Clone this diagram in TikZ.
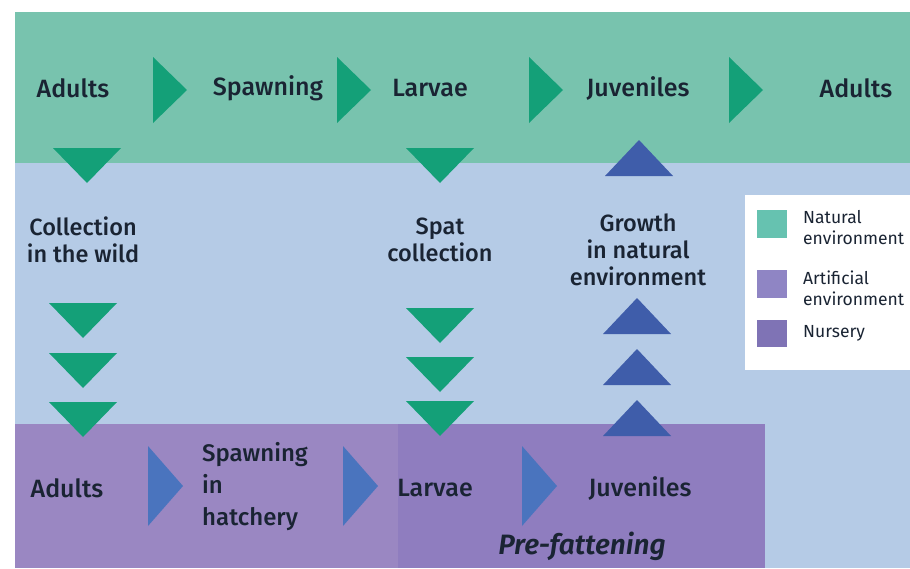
\documentclass[tikz,border=0pt]{standalone}
\usepackage{fontspec}
\setmainfont{Fira Sans}[UprightFont={* Medium},ItalicFont={* SemiBold Italic},BoldFont={* SemiBold}]
\newfontfamily\regfont{Fira Sans}
\begin{document}
\begin{tikzpicture}[x=1pt,y=-1pt]
\definecolor{natbg}{HTML}{78C3AE}
\definecolor{skybg}{HTML}{B5CBE6}
\definecolor{artbg}{HTML}{9A87C2}
\definecolor{nurbg}{HTML}{8F7DBF}
\definecolor{greentri}{HTML}{14A078}
\definecolor{bluetri}{HTML}{3F5DAA}
\definecolor{bluearr}{HTML}{4A74BE}
\definecolor{ink}{HTML}{1A2433}
\definecolor{swnat}{HTML}{66C2B0}
\definecolor{swart}{HTML}{8F85C4}
\definecolor{swnur}{HTML}{7F73B5}
\tikzset{
  lbl/.style={text=ink,font=\fontsize{25}{28}\selectfont,inner sep=0pt,align=center},
  mid/.style={text=ink,font=\fontsize{23.5}{27}\selectfont,inner sep=0pt,align=center},
  leg/.style={text=ink,font=\regfont\fontsize{17.5}{21}\selectfont,inner sep=0pt,align=left,anchor=west},
  tridown/.pic={\fill[greentri] (-34,0) -- (34,0) -- (0,35) -- cycle;},
  triup/.pic={\fill[bluetri] (-34,0) -- (34,0) -- (0,-36) -- cycle;},
  triright/.pic={\fill[greentri] (0,-33) -- (34,0) -- (0,33) -- cycle;},
  triblue/.pic={\fill[bluearr] (0,-40) -- (35,0) -- (0,40) -- cycle;}
}
\useasboundingbox (0,0) rectangle (910,568);
\fill[white] (0,0) rectangle (910,568);
% bands
\fill[skybg] (15,12) rectangle (910,568);
\fill[natbg] (15,12) rectangle (910,163);
\fill[artbg] (15,424) rectangle (765,568);
\fill[nurbg] (398,424) rectangle (765,568);
% top row arrows
\pic at (153,90) {triright};
\pic at (337,90) {triright};
\pic at (529,90) {triright};
\pic at (729,90) {triright};
% top row labels
\node[lbl] (a1) at (73,88) {Adults};
\node[lbl] (s1) at (268,88) {Spawning};
\node[lbl] (l1) at (430,88) {Larvae};
\node[lbl] (j1) at (638,88) {Juveniles};
\node[lbl] (a2) at (856,88) {Adults};
% vertical triangles
\pic at (87,148) {tridown};
\pic at (440,148) {tridown};
\pic at (639,176) {triup};
\pic at (83,303) {tridown};
\pic at (83,353) {tridown};
\pic at (83,402) {tridown};
\pic at (440,308) {tridown};
\pic at (440,357) {tridown};
\pic at (440,401) {tridown};
\pic at (637,334) {triup};
\pic at (637,385) {triup};
\pic at (637,436) {triup};
% middle labels
\node[mid] (cw) at (83,240) {Collection\\in the wild};
\node[mid] (sc) at (440,240) {Spat\\collection};
\node[mid] (gn) at (638,250) {Growth\\in natural\\environment};
% bottom arrows
\pic at (148,486) {triblue};
\pic at (343,486) {triblue};
\pic at (522,486) {triblue};
% bottom labels
\node[lbl] (a3) at (67,488) {Adults};
\node[lbl,align=left,anchor=west,font=\fontsize{24}{32}\selectfont] (sh) at (202,487) {Spawning\\in\\hatchery};
\node[lbl] (l3) at (435,488) {Larvae};
\node[lbl] (j3) at (640,488) {Juveniles};
\node[lbl,font=\fontsize{28}{30}\itshape] (pf) at (582,546) {Pre-fattening};
% legend
\fill[white] (745,195) rectangle (910,370);
\fill[swnat] (757,210) rectangle (787,238);
\fill[swart] (757,270) rectangle (787,298);
\fill[swnur] (757,320) rectangle (787,347);
\node[leg] (ln) at (803,228) {Natural\\environment};
\node[leg] (la) at (803,288) {Artificial\\environment};
\node[leg] (lu) at (803,333) {Nursery};
\end{tikzpicture}
\end{document}
